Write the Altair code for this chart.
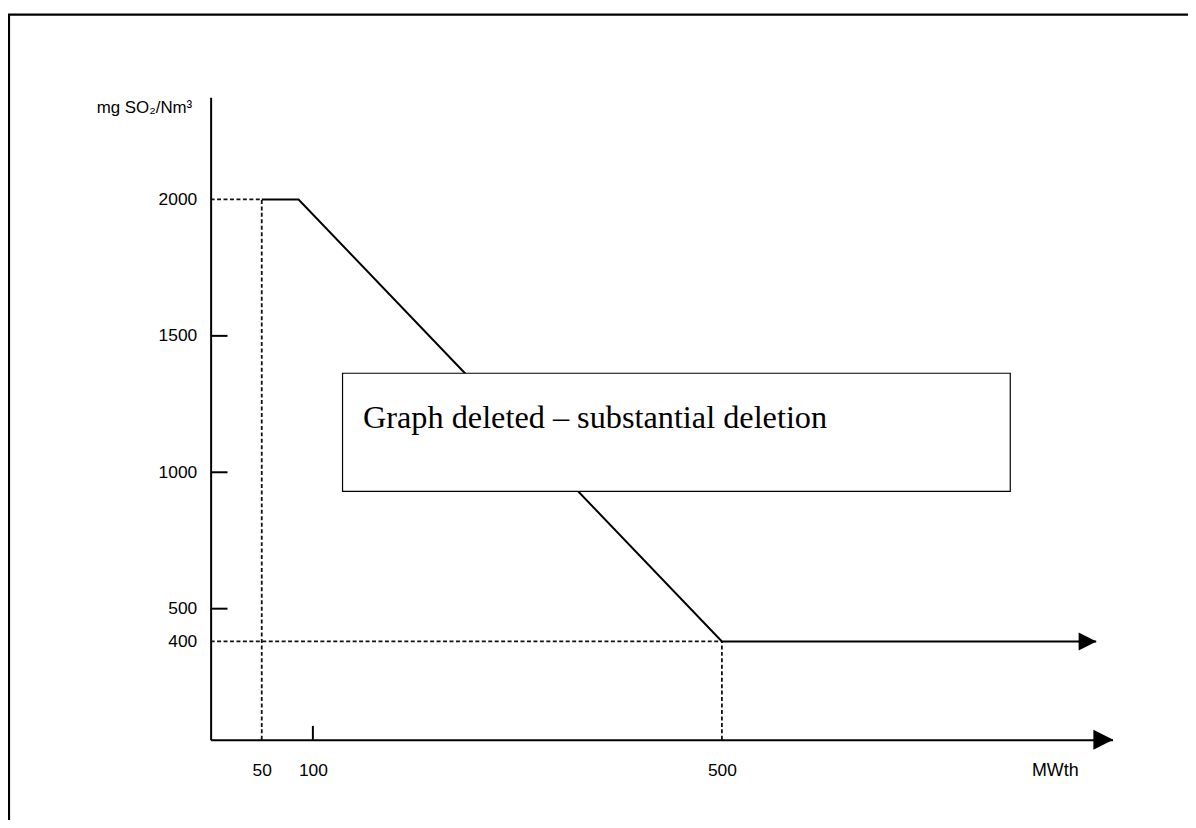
import altair as alt
import pandas as pd

# ---- data ----
limit_x = [50, 86, 500, 866]          # MWth
limit_y = [2000, 2000, 400, 400]      # mg SO2/Nm3

dash_x  = [0, 50, 0, 500]
dash_x2 = [50, 50, 500, 500]
dash_y  = [2000, 20, 400, 20]
dash_y2 = [2000, 2000, 400, 400]

y_ticks = [500, 1000, 1500]
x_ticks = [100]
y_labels = [400, 500, 1000, 1500, 2000]
x_labels = [50, 100, 500]

arrow_x = [873, 857.6]
arrow_y = [20, 400]
arrow_size = [400, 324]

box_x, box_x2 = [129], [782]
box_y, box_y2 = [930], [1363]
note_x, note_y = [149], [1163]
note_text = ["Graph deleted \u2013 substantial deletion"]

x_title = "MWth"
x_title_pos = [826]
y_title = "mg SO\u2082/Nm\u00b3"

# ---- layout ----
W, H = 908, 647
X_DOMAIN = [0, 882]
Y_DOMAIN = [20, 400, 500, 2375]
Y_RANGE = [H, 548, 515, 0]

xs = alt.Scale(domain=X_DOMAIN, nice=False, zero=False)
ys = alt.Scale(domain=Y_DOMAIN, range=Y_RANGE, nice=False, zero=False)

FONT = "Liberation Sans"

x_axis = alt.Axis(
    values=x_labels, format="d", ticks=False, grid=False, domain=True, domainColor="black",
    domainWidth=2, labelFont=FONT, labelFontSize=17.5, labelColor="black",
    labelPadding=22, title=None, zindex=1)
y_axis = alt.Axis(
    values=y_labels, format="d", ticks=False, grid=False, domain=True, domainColor="black",
    domainWidth=2, labelFont=FONT, labelFontSize=17.5, labelColor="black",
    labelPadding=14, title=y_title, titleAngle=0, titleX=-19, titleY=15,
    titleAlign="right", titleBaseline="alphabetic", titleFont=FONT,
    titleFontSize=17, titleFontWeight="normal", titleColor="black", zindex=1)


def X(f):
    return alt.X(f, scale=xs, axis=x_axis)


def Y(f):
    return alt.Y(f, scale=ys, axis=y_axis)


dashed = alt.Chart(pd.DataFrame({"x": dash_x, "x2": dash_x2, "y": dash_y, "y2": dash_y2})).mark_rule(
    color="#111", strokeWidth=1.8, strokeDash=[4, 2.5]
).encode(x=X("x:Q"), x2="x2:Q", y=Y("y:Q"), y2="y2:Q")

frame = alt.Chart(pd.DataFrame({"a": [0]})).mark_rect(
    fill="white", fillOpacity=0, stroke="black", strokeWidth=2.2
).encode(
    x=alt.value(-203), x2=alt.value(W + 400),
    y=alt.value(-83), y2=alt.value(H + 400),
)

limit = alt.Chart(pd.DataFrame({"x": limit_x, "y": limit_y, "o": list(range(len(limit_x)))})).mark_line(
    color="black", strokeWidth=2
).encode(x=X("x:Q"), y=Y("y:Q"), order="o:O")

arrows = alt.Chart(pd.DataFrame({"x": arrow_x, "y": arrow_y, "s": arrow_size})).mark_point(
    shape="M-1,-1L1,0L-1,1Z", filled=True, color="black", opacity=1
).encode(x=X("x:Q"), y=Y("y:Q"), size=alt.Size("s:Q", scale=None, legend=None))

yt = alt.Chart(pd.DataFrame({"y": y_ticks})).mark_rule(color="black", strokeWidth=2).encode(
    y=Y("y:Q"), x=alt.value(0), x2=alt.value(17),
)

xt = alt.Chart(pd.DataFrame({"x": x_ticks})).mark_rule(color="black", strokeWidth=2).encode(
    x=X("x:Q"), y=alt.value(H), y2=alt.value(H - 14),
)

box = alt.Chart(pd.DataFrame({"x": box_x, "x2": box_x2, "y": box_y, "y2": box_y2})).mark_rect(
    fill="white", stroke="black", strokeWidth=1.2
).encode(x=X("x:Q"), x2="x2:Q", y=Y("y:Q"), y2="y2:Q")

note = alt.Chart(pd.DataFrame({"x": note_x, "y": note_y, "t": note_text})).mark_text(
    align="left", baseline="alphabetic", font="Liberation Serif", fontSize=32.5, color="black"
).encode(x=X("x:Q"), y=Y("y:Q"), text="t:N")

xtitle = alt.Chart(pd.DataFrame({"x": x_title_pos, "t": [x_title]})).mark_text(
    align="center", baseline="middle", font=FONT, fontSize=18, color="black"
).encode(x=X("x:Q"), y=alt.value(H + 31), text="t:N")

chart = alt.layer(dashed, frame, limit, arrows, yt, xt, box, note, xtitle).properties(
    width=W, height=H,
    autosize=alt.AutoSizeParams(type="none"),
    padding={"left": 204, "top": 87, "right": 76, "bottom": 78},
).configure_view(stroke=None)

chart.save("out.html", embed_options={"renderer": "svg", "actions": False})
